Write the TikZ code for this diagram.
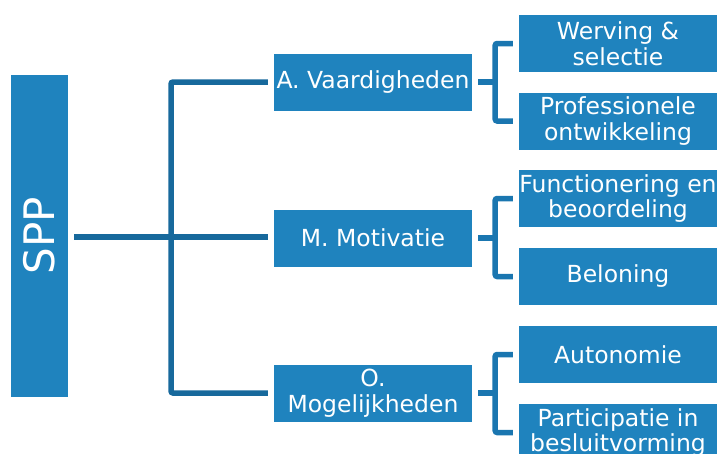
\documentclass[tikz,border=0pt]{standalone}
\usepackage{fontspec}
\setmainfont{DejaVu Sans}
\usetikzlibrary{calc}
\definecolor{boxblue}{HTML}{1F83BE}
\definecolor{lineblue}{HTML}{17699C}
\definecolor{brkblue}{HTML}{1A76B0}
\tikzset{
  bx/.style={fill=boxblue, text=white, inner sep=0pt, align=center,
    minimum width=198pt, minimum height=57pt,
    font=\fontsize{23.5}{25.5}\selectfont},
  conn/.style={draw=lineblue, line width=5.5pt},
  brk/.style={draw=brkblue, line width=5.5pt, rounded corners=2pt}
}
\begin{document}
\begin{tikzpicture}[x=1pt,y=-1pt]
\useasboundingbox (0,0) rectangle (718,453);
\clip (0,0) rectangle (718,453);
% root
\node[fill=boxblue, inner sep=0pt, minimum width=57pt, minimum height=322pt] (spp) at (39.5,236) {};
\node[text=white, rotate=90, font=\fontsize{42}{46}\selectfont, inner sep=0pt] (spptxt) at (spp.center) {SPP};
% middle
\node[bx] (a) at (373,82) {A. Vaardigheden};
\node[bx] (m) at (373,238) {M. Motivatie};
\node[bx] (o) at (373,393) {O.\\Mogelijkheden};
% right
\node[bx] (w) at (618,43.5) {Werving \&\\selectie};
\node[bx] (p) at (618,121) {Professionele\\ontwikkeling};
\node[bx] (f) at (618,198.5) {Functionering en\\beoordeling};
\node[bx] (b) at (618,276.5) {Beloning};
\node[bx] (au) at (618,354.5) {Autonomie};
\node[bx] (pa) at (618,432.5) {Participatie in\\besluitvorming};
% main tree
\coordinate (jx) at (171,237);
\draw[conn] ([xshift=6pt]spp.east |- jx) -- ([xshift=-6pt]m.west |- jx);
\draw[conn, rounded corners=2pt] ([xshift=-6pt]a.west) -| (jx) |- ([xshift=-6pt]o.west);
% brackets
\coordinate (ba) at ($(a.east)+(23,0)$);
\coordinate (bm) at ($(m.east)+(23,0)$);
\coordinate (bo) at ($(o.east)+(23,0)$);
\draw[brk] ([xshift=6pt]a.east) -- (ba);
\draw[brk] ([xshift=-6pt]w.west) -| (ba) |- ([xshift=-6pt]p.west);
\draw[brk] ([xshift=6pt]m.east) -- (bm);
\draw[brk] ([xshift=-6pt]f.west) -| (bm) |- ([xshift=-6pt]b.west);
\draw[brk] ([xshift=6pt]o.east) -- (bo);
\draw[brk] ([xshift=-6pt]au.west) -| (bo) |- ([xshift=-6pt]pa.west);
\end{tikzpicture}
\end{document}
